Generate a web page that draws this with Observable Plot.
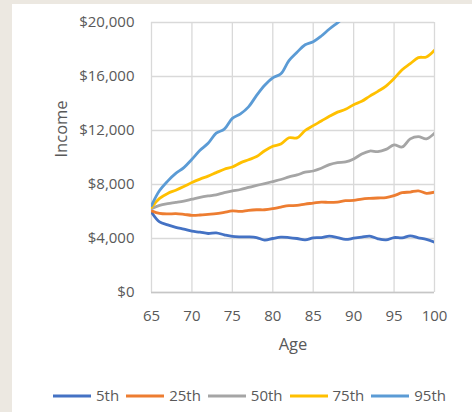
<!DOCTYPE html>
<html>
<head>
<meta charset="utf-8">
<script src="https://cdn.jsdelivr.net/npm/d3@7"></script>
<script src="https://cdn.jsdelivr.net/npm/@observablehq/plot@0.6"></script>
<style>
  html, body { margin: 0; padding: 0; }
  body { width: 472px; height: 412px; background: #ece8e1; position: relative; overflow: hidden; }
  #panel { position: absolute; left: 12px; top: 4px; width: 460px; height: 408px; background: #ffffff; }
  #chart { position: absolute; left: 0; top: 0; }
  #legend { position: absolute; left: 41px; top: 384px; display: flex; align-items: center;
            font-family: "Open Sans", sans-serif; font-size: 15px; line-height: 15px; color: #595959; }
  .item { display: flex; align-items: center; margin-right: 7px; }
  .item span { margin-left: 5px; }
</style>
</head>
<body>
<div id="panel"><div id="chart"></div><div id="legend"></div></div>
<script>
const ages = [65,66,67,68,69,70,71,72,73,74,75,76,77,78,79,80,81,82,83,84,85,86,87,88,89,90,91,92,93,94,95,96,97,98,99,100];

const p5  = [5950,5230,5010,4830,4690,4540,4470,4370,4420,4270,4150,4120,4120,4070,3880,4000,4100,4070,4000,3900,4050,4070,4170,4070,3930,4020,4100,4170,3980,3900,4070,4050,4200,4050,3930,3720];
const p25 = [6050,5860,5820,5840,5790,5720,5740,5790,5840,5940,6040,6010,6090,6130,6130,6210,6330,6430,6450,6550,6620,6700,6670,6700,6800,6820,6920,6970,7000,7020,7170,7390,7440,7530,7350,7440];
const p50 = [6200,6450,6580,6670,6770,6910,7050,7150,7230,7400,7520,7630,7780,7930,8070,8220,8370,8560,8710,8910,9000,9200,9470,9620,9670,9890,10260,10480,10430,10600,10940,10780,11380,11550,11380,11800];
const p75 = [6300,6970,7340,7580,7850,8150,8400,8620,8880,9130,9300,9600,9830,10070,10500,10830,11000,11460,11450,12000,12360,12700,13050,13360,13570,13910,14160,14550,14900,15290,15850,16500,16950,17400,17450,17950];
const p95 = [6450,7550,8250,8820,9250,9870,10530,11050,11800,12100,12900,13230,13750,14600,15350,15900,16200,17180,17800,18350,18580,19000,19520,19980,20450];

const seriesNames = ["5th","25th","50th","75th","95th"];
const seriesValues = [p5, p25, p50, p75, p95];
const seriesColors = ["#4472C4","#ED7D31","#A5A5A5","#FFC000","#5B9BD5"];

const xTicks = [65,70,75,80,85,90,95,100];
const yTicks = [0,4000,8000,12000,16000,20000];

const rows = [];
seriesNames.forEach((name, i) => {
  seriesValues[i].forEach((v, j) => rows.push({series: name, age: ages[j], income: v}));
});

const fmt = d3.format(",");
const chart = Plot.plot({
  width: 460,
  height: 362,
  marginLeft: 139,
  marginRight: 38,
  marginTop: 18,
  marginBottom: 74,
  style: {fontFamily: "Open Sans", fontSize: "15px", color: "#595959", background: "white", overflow: "visible"},
  x: {domain: [65, 100], label: null},
  y: {domain: [0, 20000], label: null},
  color: {domain: seriesNames, range: seriesColors},
  marks: [
    Plot.gridX(xTicks, {stroke: "#d9d9d9", strokeOpacity: 1, strokeWidth: 1.3}),
    Plot.gridY(yTicks, {stroke: "#d9d9d9", strokeOpacity: 1, strokeWidth: 1.3}),
    Plot.ruleY([0], {stroke: "#c6c6c6", strokeWidth: 1.6}),
    Plot.axisX(xTicks, {tickSize: 0, tickPadding: 18, label: null, fill: "#595959"}),
    Plot.axisY(yTicks, {tickSize: 0, tickPadding: 17, label: null, fill: "#595959", tickFormat: d => "$" + fmt(d)}),
    Plot.lineY(rows, {x: "age", y: "income", z: "series", stroke: "series", strokeWidth: 2.8,
      curve: "catmull-rom", clip: true, strokeLinejoin: "round", strokeLinecap: "round"}),
    Plot.text(["Age"], {frameAnchor: "bottom", dy: 57, lineAnchor: "bottom", fontSize: 16.5, fill: "#595959"}),
    Plot.text(["Income"], {frameAnchor: "left", dx: -90, rotate: -90, lineAnchor: "middle", fontSize: 16.5, fill: "#595959"})
  ]
});
document.getElementById("chart").appendChild(chart);

const legend = document.getElementById("legend");
seriesNames.forEach((name, i) => {
  const item = document.createElement("div");
  item.className = "item";
  item.innerHTML = `<svg width="38" height="4"><line x1="0" y1="2" x2="38" y2="2" stroke="${seriesColors[i]}" stroke-width="3"/></svg><span>${name}</span>`;
  legend.appendChild(item);
});
</script>
</body>
</html>
